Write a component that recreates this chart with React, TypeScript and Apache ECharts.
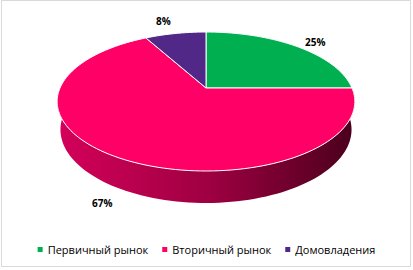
import React, { useEffect, useRef } from "react";
import * as echarts from "echarts";

const categories = ["Первичный рынок", "Вторичный рынок", "Домовладения"];
const values = [25, 67, 8];
const labels = ["25%", "67%", "8%"];
const topColors = ["#00B050", "#FF0066", "#512888"];

// projection of a tilted disk (perspective), chart pixel space
const CX = 206;
const CY = 88;
const F = 668.2;
const R = 0.2185;
const H = 0.0476;
const SB = 0.458;
const CB = 0.889;
const labelOffsets = [
  [9, 0],
  [-4, 4],
  [-9, -7],
];

function proj(deg: number, z: number, f = 1): number[] {
  const t = (deg * Math.PI) / 180;
  const X = R * f * Math.cos(t);
  const Yd = R * f * Math.sin(t);
  const v = Yd * SB + z * CB;
  const w = 1 + Yd * CB - z * SB;
  return [CX + (F * X) / w, CY - (F * v) / w];
}

const total = values.reduce((a, b) => a + b, 0);
const starts: number[] = [];
{
  let c = 0;
  values.forEach((v) => {
    starts.push(90 - (360 * c) / total);
    c += v;
  });
}

export default function App() {
  const ref = useRef<HTMLDivElement>(null);
  useEffect(() => {
    if (!ref.current) return;
    const chart = echarts.init(ref.current, null, { renderer: "svg" });
    const sideGrad = new echarts.graphic.LinearGradient(0, 0, 1, 0, [
      { offset: 0, color: "#D4005A" },
      { offset: 0.5, color: "#A00042" },
      { offset: 1, color: "#4A001C" },
    ]);
    chart.setOption({
      animation: false,
      backgroundColor: "#fff",
      graphic: [
        {
          type: "rect",
          shape: { x: 1.5, y: 0.5, width: 409, height: 266 },
          style: { fill: "none", stroke: "#D9D9D9", lineWidth: 1 },
          silent: true,
        },
      ],
      legend: {
        data: categories,
        top: 239,
        left: "center",
        icon: "rect",
        itemWidth: 5,
        itemHeight: 5,
        itemGap: 14,
        textStyle: { fontSize: 11, fontFamily: "Open Sans", color: "#000" },
        selectedMode: false,
      },
      series: [
        {
          type: "pie",
          radius: [0, 0],
          center: [-50, -50],
          silent: true,
          label: { show: false },
          labelLine: { show: false },
          data: categories.map((n, i) => ({
            name: n,
            value: values[i],
            itemStyle: { color: topColors[i] },
          })),
        },
        {
          type: "custom",
          coordinateSystem: "none",
          silent: true,
          data: values.map((v, i) => [v, i]),
          renderItem: (params: any, api: any) => {
            const i = params.dataIndex;
            const v = api.value(0);
            const a0 = starts[i];
            const a1 = a0 - (360 * v) / total;
            const N = Math.max(4, Math.ceil(Math.abs(a0 - a1) / 2));
            const angs: number[] = [];
            for (let k = 0; k <= N; k++) angs.push(a0 + ((a1 - a0) * k) / N);
            const children: any[] = [];
            // side faces (front part only)
            let run: number[] = [];
            const flush = () => {
              if (run.length > 1) {
                const pts: number[][] = [];
                run.forEach((a) => pts.push(proj(a, 0)));
                for (let k = run.length - 1; k >= 0; k--) pts.push(proj(run[k], -H));
                children.push({
                  type: "polygon",
                  shape: { points: pts },
                  style: { fill: sideGrad, stroke: null },
                });
              }
              run = [];
            };
            angs.forEach((a) => {
              const s = Math.sin((a * Math.PI) / 180);
              if (s <= 0.02) run.push(a);
              else flush();
            });
            flush();
            // top face
            const top: number[][] = [proj(0, 0, 0)];
            angs.forEach((a) => top.push(proj(a, 0)));
            children.push({
              type: "polygon",
              shape: { points: top },
              style: { fill: topColors[i], stroke: "#FFFFFF", lineWidth: 1 },
            });
            // label
            const mid = (a0 + a1) / 2;
            const front = Math.sin((mid * Math.PI) / 180) < 0;
            const lp = proj(mid, front ? -H : 0, 1.12);
            children.push({
              type: "text",
              x: lp[0] + labelOffsets[i][0],
              y: lp[1] + labelOffsets[i][1],
              style: {
                text: labels[i],
                fill: "#000",
                font: "bold 10px 'Open Sans'",
                align: "center",
                verticalAlign: "middle",
              },
            });
            return { type: "group", children };
          },
        },
      ],
    });
    return () => chart.dispose();
  }, []);
  return (
    <div
      ref={ref}
      style={{ position: "fixed", left: 0, top: 0, width: 413, height: 270 }}
    />
  );
}
